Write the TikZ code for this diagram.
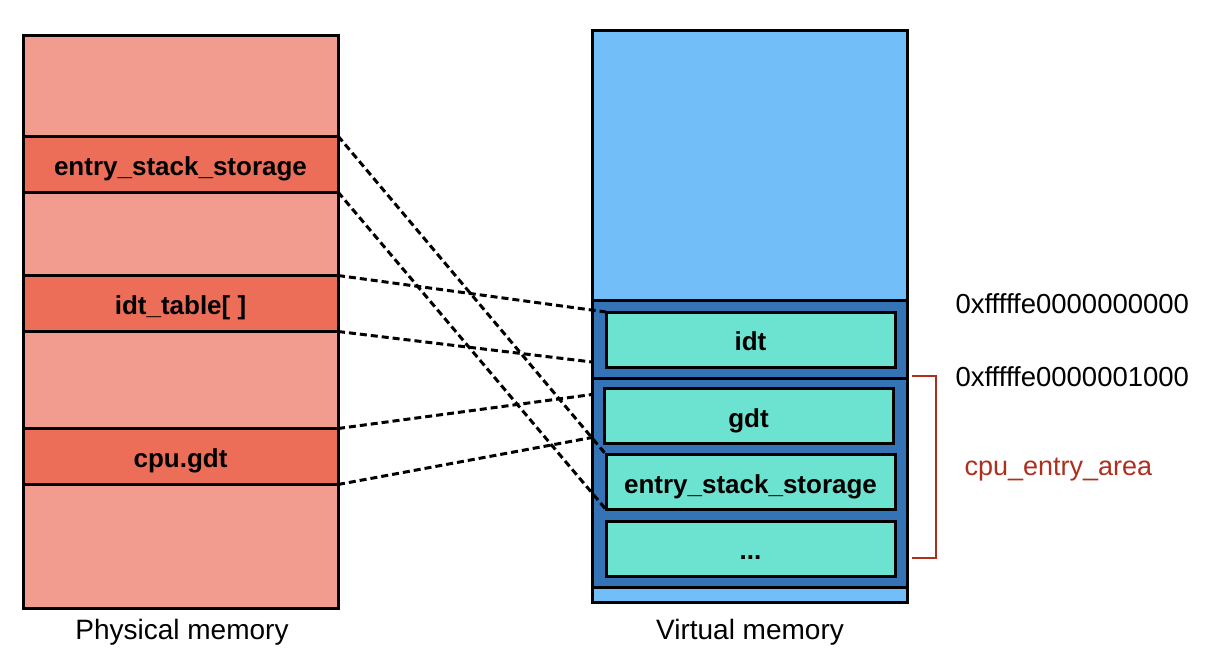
\documentclass[tikz,border=0pt]{standalone}
\usepackage{fontspec}
\setmainfont{Liberation Sans}
\usetikzlibrary{calc}

\definecolor{physlight}{HTML}{F29B8F}
\definecolor{physdark}{HTML}{EC6E58}
\definecolor{virtlight}{HTML}{72BEF8}
\definecolor{virtdark}{HTML}{3373B6}
\definecolor{slotfill}{HTML}{6CE3D0}
\definecolor{bracketred}{HTML}{AD2F1E}

\begin{document}
\begin{tikzpicture}[x=1pt, y=-1pt, font=\fontsize{28}{33}\selectfont]

        % Fixes the page to the size of the picture
        \useasboundingbox (0, 0) rectangle (1218, 664);

        % Looks of the memory blocks and of the mappings between them
        \tikzset{
            frame/.style={draw, line width=3pt},
            seglabel/.style={font=\fontsize{26}{31}\selectfont\bfseries,
                text height=23pt, text depth=1pt, inner sep=0pt, outer sep=0pt},
            physseg/.style={frame, seglabel, fill=physdark, minimum width=315pt,
                minimum height=56pt},
            virtslot/.style={frame, seglabel, fill=slotfill, minimum width=289pt,
                minimum height=55pt},
            mapping/.style={line width=3pt, dash pattern=on 7pt off 4pt},
            addr/.style={anchor=west, font=\fontsize{27.5}{33}\selectfont}
        }

        % Physical memory on the left
        \begin{scope}
            \draw[frame, fill=physlight] (23, 35) rectangle (338, 608);

            \node[physseg] (pess) at (180.5, 164) {entry\_stack\_storage};
            \node[physseg] (pidt) at (180.5, 303.5) {idt\_table[ ]};
            \node[physseg] (pgdt) at (180.5, 456.5) {cpu.gdt};

            \node (physlbl) at (182, 632) {Physical memory};
        \end{scope}

        % Virtual memory on the right
        \begin{scope}
            \draw[frame, fill=virtlight] (592, 30) rectangle (907, 602);
            \draw[frame, fill=virtdark] (592, 300) rectangle (907, 587);
            \draw[frame] (592, 378.5) -- (907, 378.5);

            \node[virtslot] (vidt) at (750.5, 339.5) {idt};
            \node[virtslot] (vgdt) at (748.5, 416) {gdt};
            \node[virtslot] (vess) at (750.5, 482) {entry\_stack\_storage};
            \node[virtslot] (vdots) at (750.5, 548.5) {...};

            \node (virtlbl) at (750, 632) {Virtual memory};
        \end{scope}

        % Addresses and the cpu_entry_area bracket
        \begin{scope}
            \node[addr] (addrbase) at (952, 304) {0xfffffe0000000000};
            \node[addr] (addrnext) at (952, 377) {0xfffffe0000001000};

            \draw[bracketred, line width=1.5pt] (912, 376) -| (936, 558)
                -- (912, 558);
            \node[anchor=west, text=bracketred,
                font=\fontsize{27}{32}\selectfont] (area) at (961, 470)
                {cpu\_entry\_area};
        \end{scope}

        % Mappings from physical to virtual memory
        \begin{scope}[mapping]
            \draw (pess.north east) -- (vess.north west);
            \draw (pess.south east) -- (vess.south west);

            \draw (pidt.north east) -- (vidt.north west);
            \draw (pidt.south east) -- ($(vidt.south west) + (-14, -5)$);

            \draw (pgdt.north east) -- ($(vgdt.north west) + (-12, 6)$);
            \draw (pgdt.south east) -- ($(vgdt.south west) + (-12, -6)$);
        \end{scope}

        \end{tikzpicture}
\end{document}
